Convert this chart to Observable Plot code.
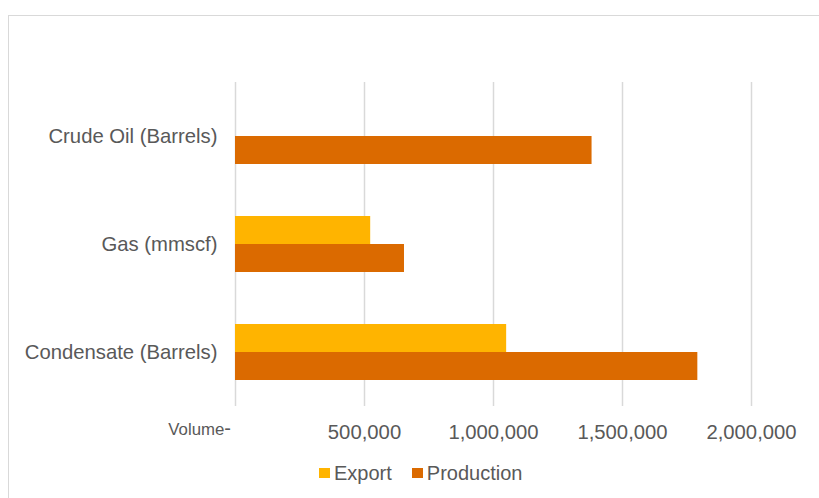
<!DOCTYPE html>
<html>
<head>
<meta charset="utf-8">
<script src="https://cdn.jsdelivr.net/npm/d3@7"></script>
<script src="https://cdn.jsdelivr.net/npm/@observablehq/plot@0.6"></script>
<style>
  body { margin: 0; background: #fff; font-family: "Liberation Sans", Arial, sans-serif; color: #595959; }
  #wrap { position: relative; width: 819px; height: 498px; overflow: hidden; background: #fff; }
  #frame { position: absolute; left: 8px; top: 15px; width: 840px; height: 520px; border: 1.5px solid #d9d9d9; box-sizing: border-box; }
  #chart { position: absolute; left: 0; top: 0; }
  #vol { position: absolute; left: 0; top: 418px; width: 231px; text-align: right; white-space: nowrap; line-height: 20px; }
  #legend { position: absolute; left: 319px; top: 463px; display: flex; align-items: center; font-size: 20px; line-height: 20px; white-space: nowrap; }
  .item { display: flex; align-items: center; margin-right: 20px; }
  .sw { width: 11px; height: 10px; margin-right: 4px; }
</style>
</head>
<body>
<div id="wrap">
  <div id="frame"></div>
  <div id="chart"></div>
  <div id="vol"><span style="font-size:16.8px">Volume</span><span style="font-size:20px">-</span></div>
  <div id="legend"></div>
</div>
<script>
const categories = ["Crude Oil (Barrels)", "Gas (mmscf)", "Condensate (Barrels)"];
const seriesNames = ["Export", "Production"];
const seriesColors = ["#FFB400", "#DB6A00"];
const exportValues = [0, 524000, 1051000];
const productionValues = [1382000, 655000, 1792000];
const xTicks = [0, 500000, 1000000, 1500000, 2000000];

const data = [];
categories.forEach((c, i) => {
  data.push({category: c, series: seriesNames[0], value: exportValues[i]});
  data.push({category: c, series: seriesNames[1], value: productionValues[i]});
});

const fmt = d3.format(",");
const chart = Plot.plot({
  width: 819,
  height: 450,
  marginLeft: 235,
  marginRight: 68,
  marginTop: 81,
  marginBottom: 43.5,
  style: {fontFamily: '"Liberation Sans", Arial, sans-serif', fontSize: "20.3px", color: "#595959", background: "transparent", overflow: "visible"},
  x: {domain: [0, 2000000], label: null},
  fy: {domain: categories, padding: 0, label: null},
  y: {domain: seriesNames, paddingInner: 0, paddingOuter: 0.92, axis: null},
  color: {domain: seriesNames, range: seriesColors},
  marks: [
    Plot.gridX(xTicks, {stroke: "#d9d9d9", strokeOpacity: 1, strokeWidth: 1.5}),
    Plot.barX(data, {fy: "category", y: "series", x: "value", fill: "series"}),
    Plot.axisX(xTicks, {tickSize: 0, tickPadding: 18, tickFormat: d => d === 0 ? "" : fmt(d), label: null, fill: "#595959"}),
    Plot.axisFy({anchor: "left", tickSize: 0, tickPadding: 18, label: null, fill: "#595959"})
  ]
});
document.getElementById("chart").appendChild(chart);

const legend = document.getElementById("legend");
seriesNames.forEach((s, i) => {
  const item = document.createElement("div");
  item.className = "item";
  const sw = document.createElement("div");
  sw.className = "sw";
  sw.style.background = seriesColors[i];
  const t = document.createElement("span");
  t.textContent = s;
  item.appendChild(sw);
  item.appendChild(t);
  legend.appendChild(item);
});
</script>
</body>
</html>
